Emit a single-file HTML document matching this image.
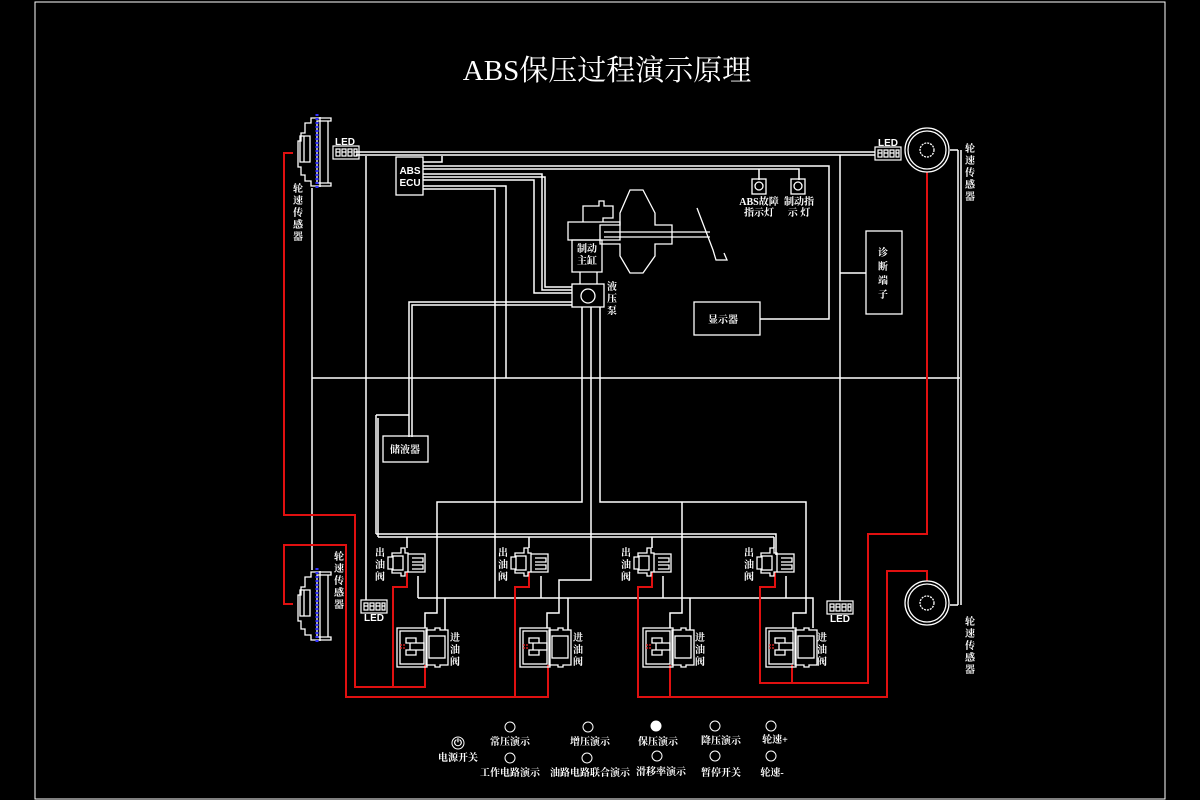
<!DOCTYPE html>
<html><head><meta charset="utf-8"><style>
html,body{margin:0;padding:0;background:#000;}
svg{display:block}
text{font-family:"Liberation Serif","Noto Serif CJK SC","Noto Sans CJK SC",serif;fill:#fff;}
.s{font-family:"Liberation Sans","Noto Sans CJK SC",sans-serif;font-size:10px;font-weight:bold;}
</style></head><body>
<svg width="1200" height="800" viewBox="0 0 1200 800" xmlns="http://www.w3.org/2000/svg">
<defs>
<g id="outv" fill="none" stroke="#fff" stroke-width="1.3">
  <path d="M401 548h4v5h3v19h-3v4h-4v-3h-9v-4h-4v-12h4v-4h9z"/>
  <rect x="393" y="556" width="10" height="14"/>
  <path d="M408 554h17v18h-17"/>
  <path d="M412 558h11v4h-11M412 565h11v4h-11"/>
</g>
<g id="inv" fill="none" stroke="#fff" stroke-width="1.3">
  <rect x="397" y="628" width="30" height="39"/>
  <rect x="400" y="631" width="24" height="33"/>
  <path d="M426 630h9v-2h5v2h8v35h-8v2h-5v-2h-9z"/>
  <rect x="429" y="636" width="16" height="22"/>
  <path d="M406 638h10v5h-10zM406 650h10v5h-10zM410 643h14v7h-14z"/>
  <path d="M400 645h6M400 648h6" stroke="#e22" stroke-dasharray="2 1"/>
</g>
<g id="sens" fill="none" stroke="#fff" stroke-width="1.3">
  <path d="M305 123h6v-5h20v3h-14v62h14v3h-20v-5h-6v-6h-4v-8h-3v-26h3v-8h4z"/>
  <path d="M300 136h10v26h-10zM304 136v26"/>
  <path d="M320 117v70M328 121v62"/>
  <line x1="317" y1="114" x2="317" y2="190" stroke="#33f" stroke-width="3" stroke-dasharray="2 2"/>
</g>
<g id="led" fill="none" stroke="#fff" stroke-width="1.2">
  <rect x="0" y="0" width="26" height="13"/>
  <path d="M3 3h4v7h-4zM9 3h4v7h-4zM15 3h4v7h-4zM21 3h3v7h-3zM3 6h4M9 6h4M15 6h4M21 6h3"/>
</g>
<g id="wheel" fill="none" stroke="#fff" stroke-width="1.3">
  <circle r="22"/><circle r="19"/><circle r="7" stroke-dasharray="2 1"/>
</g>
</defs>

<rect x="35" y="2" width="1130" height="797" fill="none" stroke="#fff" stroke-width="1"/>
<text x="607" y="80" font-size="29" text-anchor="middle">ABS保压过程演示原理</text>

<!-- white wiring -->
<g fill="none" stroke="#fff" stroke-width="1.5">
  <path d="M356 152H875M356 155H875"/>
  <path d="M312 188V570"/>
  <path d="M366 156V600"/>
  <path d="M312 378H960"/>
  <path d="M958 150V605M961 150V605M958 150H950M958 605H950"/>
  <path d="M423 162H442V156"/>
  <path d="M423 166H829V319H760"/>
  <path d="M423 169H799V180M759 169V180"/>
  <path d="M423 174H542V290H572M423 177H545V287H572"/>
  <path d="M423 180H534V293H572"/>
  <path d="M423 186H506V378"/>
  <path d="M423 189H495V598"/>
  <path d="M572 302H409V437M572 305H412V437"/>
  <path d="M376 415H409M376 415V534M378 418V537"/>
  <path d="M582 307V502H437V613H425V628"/>
  <path d="M591 307V580H559V613H547V628"/>
  <path d="M600 307V502H806V613H793V628"/>
  <path d="M682 502V613H670V628"/>
  <path d="M376 534H776V555M378 537H774"/>
  <path d="M407 537V548M529 537V548M652 537V548M774 537V548"/>
  <path d="M418 598H813V628"/>
  <path d="M418 576V598M541 576V598M663 576V598M786 576V598"/>
  <path d="M445 598V630M568 598V630M690 598V630"/>
  <path d="M840 155V601M840 273H866"/>
</g>

<!-- red wiring -->
<g fill="none" stroke="#e01010" stroke-width="2">
  <path d="M293 153H284V515H355V687H425V665"/>
  <path d="M293 604H284V545H346V697H548V665"/>
  <path d="M393 687V587H407V572"/>
  <path d="M515 697V587H529V572"/>
  <path d="M927 172V534H868V683H760V587H775V572"/>
  <path d="M792 683V665"/>
  <path d="M927 581V571H887V697H638V587H652V572"/>
  <path d="M670 697V665"/>
</g>

<!-- sensors -->
<use href="#sens"/>
<use href="#sens" transform="translate(0,454)"/>
<use href="#led" x="333" y="146"/>
<text class="s" x="345" y="145" text-anchor="middle" font-size="8">LED</text>
<use href="#led" x="875" y="147"/>
<text class="s" x="888" y="146" text-anchor="middle" font-size="8">LED</text>
<use href="#led" x="361" y="600"/>
<text class="s" x="374" y="621" text-anchor="middle" font-size="8">LED</text>
<use href="#led" x="827" y="601"/>
<text class="s" x="840" y="622" text-anchor="middle" font-size="8">LED</text>
<use href="#wheel" x="927" y="150"/>
<use href="#wheel" x="927" y="603"/>

<g class="s" font-size="10" text-anchor="middle">
  <text x="298" y="192">轮</text><text x="298" y="204">速</text><text x="298" y="216">传</text><text x="298" y="228">感</text><text x="298" y="240">器</text>
  <text x="339" y="560">轮</text><text x="339" y="572">速</text><text x="339" y="584">传</text><text x="339" y="596">感</text><text x="339" y="608">器</text>
  <text x="970" y="152">轮</text><text x="970" y="164">速</text><text x="970" y="176">传</text><text x="970" y="188">感</text><text x="970" y="200">器</text>
  <text x="970" y="625">轮</text><text x="970" y="637">速</text><text x="970" y="649">传</text><text x="970" y="661">感</text><text x="970" y="673">器</text>
</g>

<!-- ECU -->
<rect x="396" y="157" width="27" height="38" fill="none" stroke="#fff" stroke-width="1.3"/>
<text class="s" x="410" y="174" text-anchor="middle" font-size="8">ABS</text>
<text class="s" x="410" y="186" text-anchor="middle" font-size="8">ECU</text>

<!-- master cylinder, pump, booster -->
<g fill="none" stroke="#fff" stroke-width="1.3">
  <path d="M583 222V206H599V201H604V206H613V218H603V222"/>
  <path d="M568 222H620V240H568Z"/>
  <path d="M572 240H602V272H572Z"/>
  <path d="M580 272V284M597 272V284"/>
  <rect x="572" y="284" width="32" height="23"/>
  <circle cx="588" cy="296" r="7"/>
  <path d="M630 190H643L655 213V225H672V244H655V256L643 273H630L620 256V244H600V225H620V213Z"/>
  <path d="M604 232H710M604 237H710"/>
  <path d="M697 208L713 250L716 260H727L724 253"/>
  <rect x="752" y="179" width="14" height="15"/><circle cx="759" cy="186" r="4"/>
  <rect x="791" y="179" width="14" height="15"/><circle cx="798" cy="186" r="4"/>
  <rect x="866" y="231" width="36" height="83"/>
  <rect x="694" y="302" width="66" height="33"/>
  <rect x="383" y="436" width="45" height="26"/>
</g>
<g class="s" font-size="10" text-anchor="middle">
  <text x="587" y="252">制动</text><text x="587" y="264">主缸</text>
  <text x="612" y="290">液</text><text x="612" y="302">压</text><text x="612" y="314">泵</text>
  <text x="759" y="205">ABS故障</text><text x="759" y="216">指示灯</text>
  <text x="799" y="205">制动指</text><text x="799" y="216">示  灯</text>
  <text x="883" y="256">诊</text><text x="883" y="270">断</text><text x="883" y="284">端</text><text x="883" y="298">子</text>
  <text x="723" y="323">显示器</text>
  <text x="405" y="453">储液器</text>
</g>

<!-- valves -->
<use href="#outv"/><use href="#outv" x="123"/><use href="#outv" x="246"/><use href="#outv" x="369"/>
<use href="#inv"/><use href="#inv" x="123"/><use href="#inv" x="246"/><use href="#inv" x="369"/>
<g class="s" font-size="10" text-anchor="middle">
  <text x="380" y="556">出</text><text x="380" y="568">油</text><text x="380" y="580">阀</text>
  <text x="503" y="556">出</text><text x="503" y="568">油</text><text x="503" y="580">阀</text>
  <text x="626" y="556">出</text><text x="626" y="568">油</text><text x="626" y="580">阀</text>
  <text x="749" y="556">出</text><text x="749" y="568">油</text><text x="749" y="580">阀</text>
  <text x="455" y="641">进</text><text x="455" y="653">油</text><text x="455" y="665">阀</text>
  <text x="578" y="641">进</text><text x="578" y="653">油</text><text x="578" y="665">阀</text>
  <text x="700" y="641">进</text><text x="700" y="653">油</text><text x="700" y="665">阀</text>
  <text x="822" y="641">进</text><text x="822" y="653">油</text><text x="822" y="665">阀</text>
</g>

<!-- control panel -->
<g fill="none" stroke="#fff" stroke-width="1">
  <circle cx="458" cy="743" r="6"/>
  <circle cx="510" cy="727" r="5"/><circle cx="588" cy="727" r="5"/><circle cx="656" cy="726" r="5" fill="#fff"/><circle cx="715" cy="726" r="5"/><circle cx="771" cy="726" r="5"/>
  <circle cx="510" cy="758" r="5"/><circle cx="587" cy="758" r="5"/><circle cx="657" cy="756" r="5"/><circle cx="715" cy="756" r="5"/><circle cx="771" cy="756" r="5"/>
</g>
<text x="458" y="746" font-size="7" text-anchor="middle" class="s">⏻</text>
<g class="s" font-size="10" text-anchor="middle">
  <text x="458" y="761">电源开关</text>
  <text x="510" y="745">常压演示</text><text x="590" y="745">增压演示</text><text x="658" y="745">保压演示</text><text x="721" y="744">降压演示</text><text x="775" y="743">轮速+</text>
  <text x="510" y="776">工作电路演示</text><text x="590" y="776">油路电路联合演示</text><text x="661" y="775">滑移率演示</text><text x="721" y="776">暂停开关</text><text x="772" y="776">轮速-</text>
</g>
</svg>
</body></html>
